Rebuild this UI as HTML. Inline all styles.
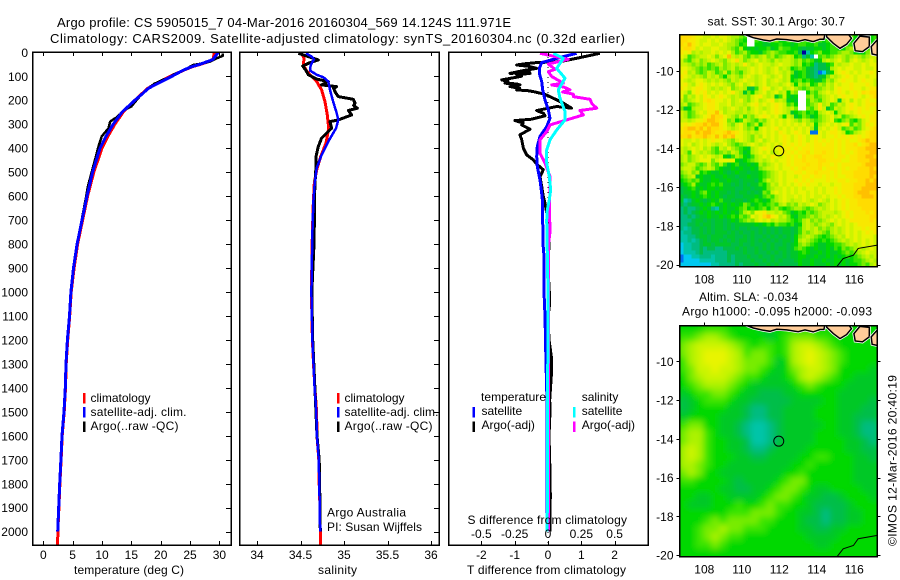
<!DOCTYPE html>
<html>
<head>
<meta charset="utf-8">
<title>Argo profile 5905015</title>
<style>
html,body{margin:0;padding:0;background:#fff;}
svg{display:block;}
text{font-family:"Liberation Sans",sans-serif;font-size:12px;fill:#000;}
.frame{fill:none;stroke:#000;stroke-width:1.5;shape-rendering:crispEdges;}
.tick{stroke:#000;stroke-width:1;shape-rendering:crispEdges;}
.line{fill:none;stroke-linejoin:round;shape-rendering:crispEdges;}
</style>
</head>
<body>
<svg id="chart" xmlns="http://www.w3.org/2000/svg" width="900" height="580" viewBox="0 0 900 580">
<defs>
<clipPath id="clip-t"><rect x="32" y="52" width="199" height="493"/></clipPath>
<clipPath id="clip-s"><rect x="239" y="52" width="200" height="493"/></clipPath>
<clipPath id="clip-d"><rect x="448" y="52" width="200" height="493"/></clipPath>
<clipPath id="clip-m1"><rect x="679.5" y="34.5" width="197.8" height="232"/></clipPath>
<clipPath id="clip-m2"><rect x="679.5" y="325.5" width="197.8" height="231"/></clipPath>
<filter id="smooth" x="-10%" y="-10%" width="120%" height="120%"><feGaussianBlur stdDeviation="3.2"/></filter>
</defs>

<text x="57" y="27" style="font-size:13px" textLength="454">Argo profile: CS 5905015_7 04-Mar-2016 20160304_569 14.124S 111.971E</text>
<text x="50" y="43" style="font-size:13px" textLength="575">Climatology: CARS2009. Satellite-adjusted climatology: synTS_20160304.nc (0.32d earlier)</text>

<g id="map1"></g>
<g id="map2"></g>
<g id="panelT"></g>
<g id="panelS"></g>
<g id="panelD"></g>

<rect class="frame" x="32.5" y="52" width="198.5" height="493"/>
<rect class="frame" x="239.5" y="52" width="199.5" height="493"/>
<rect class="frame" x="448.5" y="52" width="199.5" height="493"/>
<rect class="frame" x="679.5" y="34.5" width="197.8" height="232"/>
<rect class="frame" x="679.5" y="325.5" width="197.8" height="231"/>

<text x="74" y="574" textLength="110">temperature (deg C)</text>
<text x="318" y="574" textLength="39">salinity</text>
<text x="467" y="574" textLength="159">T difference from climatology</text>
<text x="467.5" y="524" textLength="159.5">S difference from climatology</text>

<g>
<rect x="83" y="393" width="2.5" height="10.5" fill="#f00"/>
<text x="90.5" y="402">climatology</text>
<rect x="83" y="407" width="2.5" height="10.5" fill="#00f"/>
<text x="90.5" y="416" textLength="96">satellite-adj. clim.</text>
<rect x="83" y="421.5" width="2.5" height="10.5" fill="#000"/>
<text x="90.5" y="430" textLength="88">Argo(..raw -QC)</text>
</g>
<g>
<rect x="337" y="393" width="2.5" height="10.5" fill="#f00"/>
<text x="344.5" y="402">climatology</text>
<rect x="337" y="407" width="2.5" height="10.5" fill="#00f"/>
<text x="344.5" y="416" textLength="94">satellite-adj. clim.</text>
<rect x="337" y="421.5" width="2.5" height="10.5" fill="#000"/>
<text x="344.5" y="430" textLength="88">Argo(..raw -QC)</text>
<text x="327" y="516.5" textLength="79">Argo Australia</text>
<text x="327" y="531" textLength="95">PI: Susan Wijffels</text>
</g>

<text x="707.5" y="25.5" textLength="137.5">sat. SST: 30.1  Argo: 30.7</text>
<text x="699" y="301" textLength="99">Altim. SLA: -0.034</text>
<text x="682" y="315.5" textLength="190">Argo h1000: -0.095 h2000: -0.093</text>
<text transform="translate(896.5,546) rotate(-90)" textLength="171">©IMOS 12-Mar-2016 20:40:19</text>
</svg>

<script>
// ---- chart data ----
const depthTicks = [0,100,200,300,400,500,600,700,800,900,1000,1100,1200,1300,1400,1500,1600,1700,1800,1900,2000];
const tempTicks = [0,5,10,15,20,25,30];
const salTicks = [34,34.5,35,35.5,36];
const salTickLabels = ['34','34.5','35','35.5','36'];
const tDiffTicks = [-2,-1,0,1,2];
const tDiffLabels = ['-2','-1','0','1','2'];
const sDiffTicks = [-0.5,-0.25,0,0.25,0.5];
const sDiffLabels = ['-0.5','-0.25','0','0.25','0.5'];
const lonTicks = [108,110,112,114,116];
const latTicks = [-10,-12,-14,-16,-18,-20];

const tempClimDepth = [0,25,35,50,60,75,100,125,150,175,200,250,300,350,400,500,600,700,800,900,1000,1100,1200,1300,1400,1500,1600,1700,1800,1900,2000,2055];
const tempClim = [29.1,29.0,28.6,26.8,25.4,23.9,21.6,19.6,17.8,16.7,15.6,13.6,12.2,11.0,10.0,8.6,7.55,6.7,5.85,5.25,4.75,4.5,4.15,3.9,3.78,3.56,3.22,3.03,2.83,2.65,2.47,2.45];
const tempSatDepth = [0,30,50,60,75,100,125,150,175,200,250,300,350,400,500,600,700,800,900,1000,1100,1200,1300,1400,1500,1600,1700,1800,1900,2000];
const tempSat = [29.8,28.9,26.7,25.3,23.8,21.9,19.9,17.9,16.8,15.6,13.4,11.9,10.7,9.66,8.4,7.44,6.6,5.75,5.15,4.7,4.46,4.1,3.87,3.75,3.53,3.19,3.0,2.8,2.62,2.45];
const tempArgoDepth = [4,15,25,39,46,53,60,76,90,108,115,132,154,171,199,226,240,271,289,317,351,393,449,490,560,601,700,800,900,1000,1100,1200,1300,1400,1500,1600,1700,1800,1900,2000];
const tempArgo = [30.56,30.56,29.5,28.4,27.26,25.55,25.0,23.85,22.4,21.3,20.3,18.9,17.7,16.9,15.9,15.0,13.9,12.5,11.4,11.1,9.95,9.4,8.8,8.35,7.6,7.3,6.55,5.72,5.12,4.68,4.45,4.08,3.88,3.75,3.55,3.2,3.02,2.82,2.65,2.45];

const salClimDepth = [4,25,53,74,94,122,157,206,261,317,379,435,490,546,629,768,1000,1200,1300,1400,1500,1600,1700,1800,1900,2000,2055];
const salClim = [34.513,34.54,34.533,34.563,34.609,34.686,34.743,34.782,34.808,34.824,34.793,34.732,34.686,34.659,34.647,34.636,34.625,34.637,34.65,34.665,34.685,34.69,34.71,34.715,34.724,34.728,34.728];
const salSatDepth = [4,18,29,53,76,94,104,122,157,199,254,282,317,372,428,483,546,629,768,1000,1200,1300,1400,1500,1600,1700,1800,1900,2000];
const salSat = [34.563,34.628,34.655,34.617,34.609,34.686,34.762,34.82,34.839,34.87,34.916,34.935,34.908,34.82,34.743,34.686,34.663,34.647,34.636,34.625,34.637,34.65,34.662,34.682,34.688,34.71,34.715,34.722,34.725];
const salArgoDepth = [4,11,32,43,57,76,94,112,122,136,143,150,164,175,185,196,212,222,233,243,261,282,289,317,358,393,435,476,546,629,719,800,1000,1200,1400,1600,1700,1800,1900,2000];
const salArgo = [34.475,34.533,34.705,34.609,34.525,34.563,34.59,34.686,34.82,34.743,34.916,34.88,34.897,34.915,34.935,35.107,35.126,35.11,35.153,35.05,35.088,34.935,34.839,34.858,34.743,34.705,34.678,34.678,34.667,34.659,34.659,34.655,34.63,34.64,34.665,34.69,34.715,34.72,34.724,34.728];

const diffTArgoDepth = [4,25,39,43,48,53,58,67,75,88,84,88,94,100,115,122,129,132,136,143,150,157,160,164,175,185,212,233,226,243,254,265,279,285,295,303,321,344,365,400,428,449,469,490,518,560,601,629,700,800,900,1000,1050,1100,1200,1280,1350,1450,1500,1600,1750,1850,1950,2000];
const diffTArgo = [1.56,0.86,0.36,-0.34,-0.7,-0.94,-0.6,-0.34,-0.7,-1.14,-0.55,-0.54,-0.94,-0.8,-1.39,-1.2,-1.29,-0.95,-0.84,-1.14,-0.85,-0.94,-0.6,-0.44,-0.1,0.06,0.46,0.71,0.26,-0.34,-0.14,-0.09,-0.49,-0.99,-0.75,-0.79,-0.54,-0.84,-0.79,-0.74,-0.64,-0.44,-0.32,-0.14,-0.24,-0.19,-0.14,-0.09,0.0,0.03,0.0,0.04,0.05,0.0,0.03,0.11,0.1,0.05,0.06,0.03,0.06,0.07,0.06,0.06];
const diffTSatDepth = [4,18,43,67,88,122,157,199,240,275,310,351,393,435,476,532,588,629,699,800,850,1000,1100,1300,1450,2000];
const diffTSat = [0.86,0.46,-0.19,-0.26,-0.26,-0.19,-0.16,-0.09,0.01,0.06,-0.04,-0.24,-0.32,-0.34,-0.32,-0.24,-0.19,-0.16,-0.16,-0.15,-0.12,-0.12,-0.09,-0.06,-0.03,-0.03];
const diffSArgoDepth = [4,29,49,71,81,101,129,136,145,157,165,175,185,196,215,233,243,261,282,303,331,365,421,462,518,560,629,699,750,800,2000];
const diffSArgo = [-0.06,0.1525,0.0025,0.0525,0.0025,0.0275,0.115,0.0275,0.12,0.165,0.11,0.19,0.19,0.315,0.33,0.365,0.24,0.265,0.14,0.015,-0.01,-0.06,-0.06,-0.0225,0.015,0.015,0.012,0.0125,0.015,0.004,0.004];
const diffSSatDepth = [4,25,67,108,157,192,247,282,324,365,407,462,518,574,615,657,699,1000,2000];
const diffSSat = [0.04,0.115,0.065,0.1275,0.0775,0.09,0.1275,0.1275,0.065,0.015,-0.01,-0.01,0.01,0.02,0.01,-0.005,-0.01,0,-0.006];

const colorScale = {A:'#0000a0',B:'#0070f0',C:'#00c8f0',D:'#00c4a8',E:'#00bc80',F:'#00be48',G:'#00c828',H:'#00d800',I:'#38e400',J:'#78ec00',K:'#acf200',L:'#ccf400',M:'#e8f400',N:'#f8e800',O:'#ffdc00',P:'#ffc000',W:'#ffffff'};

const sstGrid = [
"OOONMMLLMLMMLKKJIWWHHIIJHIHHHHIIIIHIIIJIHHIJHIIHHI",
"OONNMLLMLMLMLKJIHWWIHGHIJHHIIHHIIHIIHIHHIJIHHIIHHI",
"ONPNMLMMLLMLKKJHIWWHHGGHHIHHGHIIHHIGGHIHHJIIHIHHIJ",
"NOONLMLLMMLLKJIKHGHGHHIGHJIIHHGFGGHHGHIIHHJKIHHIJK",
"NMNKLKLLMLMLMKIJKIHHGIJKJIIHHIFADHIJHHIIJKKJHGHJKL",
"MLIJKLLMLJLMPLKLJIKJKLJKIJKLKHIEGDWIJIJKLKJKLKJKLL",
"LJIKLJKLMLKJLMOLJKLMKLKJLKLLKJKIJIGHKLKLMKJLMLKLML",
"LLKJKJKIJKLJKLKLNLKLMLLKLMLLKJKHIHEFFHILKLLMLLMLMM",
"MMLKJIJIJIKJKLJKKLMLMLKLMKLKHIJIGFEFFGKLMLMMLLMLLM",
"MNKLJIJLKIJLIKJIKLMLMLKLMLKLJGHIGFEBCFHLMNMLMLMMNM",
"NMLKLKJLKLJHKLKJLMLKLMLKLMKLHGHIGFEFGJLKLMNMLMMLMM",
"MLKLMMLKLKLKJLKLMLLKLMKLMLKLHIJHIHGGIKJLMNMMLMNMML",
"MNLKMNMLMLMLKJLMKLMKLMKLLKLMKHKJKHIKJLKMLMMNMMMNML",
"NMLMNNMLKLKLMJKLKGFILNMKLMKLMKJIJKJJKLKMNMMNMMLMNN",
"MLJMNMNLMLMLMNLKGJHKLMKLMKLHKJWWHJIKLMLMNMLMNMONOO",
"MJLKMLNMLMNMLKLKKJLMNLKLGILHGHWWJKIJKLMLMNMMNMLMNO",
"LJKLMLNONMMLMKLMKJLMKLMNKLKGHGWWIKJIKLMLGLMKMLMNMM",
"KLIJKLMNNMLLMKLLKLMNLMLMNMLIJHWWIJKNKLIJLKMNMLMNNN",
"JGHKLLMNNMLKLMLKLJLMLKLMNMLKLJWWJIKNLGILKLMNMNMNMM",
"LKIJLMLNNPMKLLKKLKLMLMLMNMLKGHIJHIHKLMLHKLMLMNMMMN",
"LKIJKLMNPOOMLKJLIKJLMNMLMKHLKGHJIGHJKLMKLIJKLMNMNN",
"LLKLMMNPPONMJKHILKJIKJLMLMLMLKJLKJIJKLMIHJKIHJLMNN",
"MNMNOOPOPPNMKJLMKIJLHKLMLMLMLMLMKLHKLMLMLMNIKJLNMN",
"NOPPOPNPOONMLKLMKJKHLMLMNLMLMLMLMKGLMLMNLIJKIJLMNO",
"NOONPOPPONNOPONMLKLKLMLMLNMLMNMLMBBMLMNNMLHIKLMNOO",
"OOPNOOPONPNPOPMMLKJLKMLMLMNMLMNMLMNMLMMNMNMNMNMNOO",
"MLLMLMLMNMMLKJLMLKJLMKLMLMNMLMNMLMNMNMNMNMNMMNOPOO",
"MLMKLMLMLKLMKJIJKLMLKLMLMLNMNMNMNMNNMNNMNMNNOMNOPP",
"LKLMLMKLJILKMKJIHGKLMNMLMNMNMNMNNMNNNNNMNMNNNOOPPP",
"LKIMLKLKJIJKJLKIGHKLMLMKLMNMNMNNOMNNONNMNMNMNOOOPP",
"KLJKLMLMLKLHGIKJHGIKLMLNMLMNMNMONNOONNNMNNMNNOOPPO",
"KLJKLMMMJLMMMMHGHIJKLKLMLMMNMNNONNNOONNNNMMNNOOOPP",
"JKLLJIJLJIKIGHIGGHGHKJKLMLMNMNNNONNONNMNMNNNNNOPPP",
"KLLKIJKLKIHGGHGHGGHGJKLLMLMMNMNONNNOMNNNMNMNNOOOPO",
"JKLJKHIHGGHGFGHGGFGGHIJKLMLMMNNMNNONNNMNMNNNOOOOPP",
"IJKLGHGGHGGHGGFGGHGGHIJKLMLMMLMNNMNNMNMNMMNNOOOOPO",
"HIJIJHGGHHGGHGGFGGGFHJLKLMLMMNMNMNMMMNMMNNMNNOOPOP",
"GHIKHGGHIHIGGFGFGFGGIHJLKMLMLMNMNMMLMMLMMNNNOOOPPP",
"FGHIGHGHHGHGGGFFGGFGGHJKLLMLMLMLMMLMLMMNMNNNOOPPPP",
"FGGHGIJHGHGGFGFGGFGFGJILMLMLMLMMLMLMLMMNMNNNOPPPOO",
"GFGHGHIHGHGFGGFFGGGHGIJIKLMLLMLMLMLLMLMMNMNNOOPPPO",
"GDEGHGFGHGIGGFGGFGHIHGHJKLMLKLLMLKLMLKMLMNMNNOOOOO",
"FEFGGHGHIHGHGHGHJIGHIHIJIKLJKJLKLMLJKLMLMNMNNOOOOO",
"EFEEFGHGEDGHGGHIJHIHIJHJKIHIJKKJIJKLKLMLMNMNNNOOOO",
"EFEFGHGHGHGHGHGIKLJMMNLLKLJIGHIHJIJKLLLKLMNMNNNONO",
"EEFEFGGHGGHGHIHJIJMLMOPNMKLJHGIIJKJKLKLMLMNMNNNNOO",
"EEEFGGFGFGGFGHGIJKJLMLMKLKKJIHIKLJKJKLMLMLMNNNNNON",
"EEFFGFGGFGGFGFGGGGGHGHIHJIIHIGHKLKJKLKJLMLMLMNNNNN",
"EDEFFGFGFGGFGFGFFGFFGFGFGFGGFGIKLKLJKJKLKLMLMMNMNN",
"DEEFFGFGFGGGFGFGFFGFGFGFGFGGFGIKJKLKJIKLKLMLMLMNMN",
"DDEEFGGFGGGFGGFFGFGFFGFGFGFGFHJKLKJIHIJKLKMLMLMMML",
"DDEDEFGFGGFGFGFGGFGFGFGFGFGGFHKLKJIHIHIJKLKLMLMLML",
"CDDEEFGGFGGGGFFGFFGFFGFGFFGFGHJKJIHGGHHIIJKLKLMLML",
"CDDEEFEFFEEFFFGFGFFGFGFGFGGFGIJIHGHGGHGIHJIJKLKLML",
"CDDDEFEEEEEEFFFFGFFGFFGFGFGFGGHIHGGHGHGGHIJIJKLMLL",
"BCCDDEEEDEEEFEFFFGFFGFFGFFGFGGHHGGHGGHGHGHIHIJKLKL",
"BCCCCDDDDEEEFEFFFFGFFGFGFGFFFGHGGHGGHGGHHHGHIIJKLK",
"CCCCCCCCDDEEEEFEFFFGFFGFGFFFFFHGGHGGGHGHGHGHHIJIKL"
];

const slaGrid = [
"HHHIIIHHHHGGHHHHHHHHHHHHH",
"IIJKKJIHHHHGHIJJJIIHHHHHH",
"JKLLLLKJIHIIHIKLLKJIHHHHH",
"JKLMMMLKIJJIHIKLMLKJIHHHH",
"IKLMMMLKJJJIGHKLMLKJIHHHH",
"IJLLMLLKJJIHGHJKLLKJHHHHG",
"HJKLLLKJIIHGGHIKLKJIHHGGG",
"HIJKKKJIHGGGGGHIJIHHHGGGG",
"GHIIJJIHGGFFFGGHHHHHGGGGG",
"FGHIIIHGGFFFFFGGGGHHGGGGF",
"FGHHHHGGFEEFFGGGGHHHGGGFF",
"GHHHHGGGFEEFFGGGGHHHGGFFF",
"IJJHHGGFEDDEFGGGGGHHGGFEE",
"JKKIHGGFEDDEFGGGGHHHGGFEE",
"JKKIHHGGFDDEFGGGGHHHHGGFE",
"KLKIHHGGFEEFGGGGHHHHHGGFF",
"KLKIHHHGGFFGGGGHHIIHHHGGF",
"KKJIHHGGGGGGGGHHIHHHHHGGG",
"JKJHHGGGGGGGGHHIHHHHHHGGG",
"IIHHHHGFGGGGHIJJHHHHHHGGG",
"HHHHHGGFFGGHIJJIHGGHHHHGG",
"HHGGHHGGGGHIJJIHGGFFGHHHG",
"HGGGHHHIHHIJIIHHGFFFFGHHH",
"HHHHHHIIIJJJIHHGGFEFFGGHH",
"HHHIJIJJJJIIHHHGFFEFFGGHH",
"HHIJJKJJIIIHHHHGGFFGGHHHH",
"HHIJKJIIHHHHHHHHGGGGHHHHH",
"HHIIJIHHHHHHHHHHHGGHHHHHH",
"HHHHHHHHHHHHHHHHHHHHHHHHH"
];

const landJavaLon = [110.12,110.61,111.15,111.5,111.86,112.39,113.01,113.37,113.81,114.17,114.38,114.44];
const landJavaLat = [-8.1,-8.28,-8.4,-8.45,-8.35,-8.38,-8.47,-8.38,-8.48,-8.36,-8.36,-8.1];
const landBaliLon = [114.52,114.52,114.88,115.24,115.59,115.85,115.68];
const landBaliLat = [-8.1,-8.23,-8.57,-8.83,-8.62,-8.31,-8.1];
const landLombokLon = [115.98,116.3,116.8,116.8,116.44,116.05];
const landLombokLat = [-8.57,-8.2,-8.25,-8.74,-9.0,-8.95];
const landSumbawaLon = [116.9,117.3,117.3,116.95];
const landSumbawaLat = [-8.74,-8.3,-9.2,-9.12];
const coastAusLon = [115.06,115.41,115.95,116.21,117.23];
const coastAusLat = [-20.11,-19.68,-19.51,-19.16,-18.99];

const floatLon = 111.971;
const floatLat = -14.124;

// ---- axis functions ----
const NS = 'http://www.w3.org/2000/svg';
const depthY = d => 52.3 + d * 0.2397;
const tempX = v => 43.3 + v * 5.87;
const salX = v => 257 + (v - 34) * 87;
const diffTX = v => 548 + v * 33.3;
const diffSX = v => 548 + v * 133.3;
const lonX = v => 704.3 + (v - 108) * 18.75;
const lat1Y = v => 71 + (-10 - v) * 19.37;
const lat2Y = v => 361.3 + (-10 - v) * 19.37;

function mk(tag, parent, attrs){
  const el = document.createElementNS(NS, tag);
  for (const k in attrs) el.setAttribute(k, attrs[k]);
  parent.appendChild(el);
  return el;
}

function drawSeries(parent, depths, values, xFn, color, width, clip, name){
  const pts = values.map((v, i) => xFn(v).toFixed(1) + ',' + depthY(depths[i]).toFixed(1)).join(' ');
  const el = mk('polyline', parent, {points: pts, stroke: color, 'stroke-width': width, 'clip-path': 'url(#' + clip + ')'});
  el.setAttribute('class', 'line');
  
  
}

function drawTick(parent, x1, y1, x2, y2){
  const el = mk('line', parent, {x1: x1, y1: y1, x2: x2, y2: y2});
  el.setAttribute('class', 'tick');
  
  
}

function drawLabel(parent, x, y, str, anchor){
  const el = mk('text', parent, {x: x, y: y, 'text-anchor': anchor});
  el.textContent = str;
  
  
}

// ---- profile panels ----
const panelT = document.getElementById('panelT');
const panelS = document.getElementById('panelS');
const panelD = document.getElementById('panelD');

const zeroLine = mk('line', panelD, {x1: diffTX(0), x2: diffTX(0), y1: 52, y2: 545, stroke: '#000', 'stroke-width': 1, 'stroke-dasharray': '1 4'});



drawSeries(panelT, tempClimDepth, tempClim, tempX, '#f00', 3, 'clip-t', 'temperature-climatology-line');
drawSeries(panelT, tempArgoDepth, tempArgo, tempX, '#000', 2.5, 'clip-t', 'temperature-argo-line');
drawSeries(panelT, tempSatDepth, tempSat, tempX, '#00f', 3, 'clip-t', 'temperature-satellite-line');

drawSeries(panelS, salClimDepth, salClim, salX, '#f00', 3, 'clip-s', 'salinity-climatology-line');
drawSeries(panelS, salArgoDepth, salArgo, salX, '#000', 3, 'clip-s', 'salinity-argo-line');
drawSeries(panelS, salSatDepth, salSat, salX, '#00f', 2.5, 'clip-s', 'salinity-satellite-line');

drawSeries(panelD, diffTArgoDepth, diffTArgo, diffTX, '#000', 3, 'clip-d', 'difference-t-argo-line');
drawSeries(panelD, diffTSatDepth, diffTSat, diffTX, '#00f', 3, 'clip-d', 'difference-t-satellite-line');
drawSeries(panelD, diffSArgoDepth, diffSArgo, diffSX, '#f0f', 3, 'clip-d', 'difference-s-argo-line');
drawSeries(panelD, diffSSatDepth, diffSSat, diffSX, '#0ff', 3, 'clip-d', 'difference-s-satellite-line');

// depth ticks and labels
depthTicks.forEach(d => {
  const y = Math.round(depthY(d)) + 0.5;
  drawLabel(panelT, 28, depthY(d) + 4.5, String(d), 'end');
  drawTick(panelT, 226, y, 231, y);
  drawTick(panelS, 434, y, 439, y);
});

// x ticks
tempTicks.forEach(v => {
  const x = Math.round(tempX(v)) + 0.5;
  drawTick(panelT, x, 52, x, 56);
  drawTick(panelT, x, 541, x, 545);
  drawLabel(panelT, tempX(v), 559, String(v), 'middle');
});
salTicks.forEach((v, i) => {
  const x = Math.round(salX(v)) + 0.5;
  drawTick(panelS, x, 52, x, 56);
  drawTick(panelS, x, 541, x, 545);
  drawLabel(panelS, salX(v), 559, salTickLabels[i], 'middle');
});
tDiffTicks.forEach((v, i) => {
  const x = Math.round(diffTX(v)) + 0.5;
  drawTick(panelD, x, 52, x, 56);
  drawTick(panelD, x, 541, x, 545);
  drawLabel(panelD, diffTX(v), 559, tDiffLabels[i], 'middle');
});
sDiffTicks.forEach((v, i) => {
  drawLabel(panelD, diffSX(v), 538, sDiffLabels[i], 'middle');
});

// ---- maps ----
function drawLand(parent, lons, lats, latFn, name){
  const pts = lons.map((v, i) => lonX(v).toFixed(1) + ',' + latFn(lats[i]).toFixed(1)).join(' ');
  const halo = mk('polygon', parent, {points: pts, fill: 'none', stroke: '#fff', 'stroke-width': 3});
  
  
  const el = mk('polygon', parent, {points: pts, fill: '#ffcc99', stroke: '#000', 'stroke-width': 1.5});
  
  
}

function drawMapDecor(root, clipId, latFn, top, bottom){
  const g = mk('g', root, {'clip-path': 'url(#' + clipId + ')'});
  
  
  drawLand(g, landJavaLon, landJavaLat, latFn, 'land-java');
  drawLand(g, landBaliLon, landBaliLat, latFn, 'land-bali');
  drawLand(g, landLombokLon, landLombokLat, latFn, 'land-lombok');
  drawLand(g, landSumbawaLon, landSumbawaLat, latFn, 'land-sumbawa');
  const aus = mk('polyline', g, {
    points: coastAusLon.map((v, i) => lonX(v).toFixed(1) + ',' + latFn(coastAusLat[i]).toFixed(1)).join(' '),
    fill: 'none', stroke: '#000', 'stroke-width': 1
  });
  
  
  const marker = mk('circle', g, {cx: lonX(floatLon), cy: latFn(floatLat), r: 5, fill: 'none', stroke: '#000', 'stroke-width': 1});
  
  
  lonTicks.forEach(v => {
    const x = Math.round(lonX(v)) + 0.5;
    drawTick(root, x, top - 3, x, top);
    drawLabel(root, lonX(v), bottom + 17, String(v), 'middle');
  });
  latTicks.forEach(v => {
    const y = Math.round(latFn(v)) + 0.5;
    drawTick(root, 676.5, y, 679.5, y);
    drawTick(root, 877.3, y, 880.3, y);
    drawLabel(root, 673.5, latFn(v) + 4.5, String(v), 'end');
  });
}

// SST heat cells
const map1 = document.getElementById('map1');
const sstClip = mk('g', map1, {'clip-path': 'url(#clip-m1)'});


const sstCellW = 197.8 / 50, sstCellH = 232 / 58;
sstGrid.forEach((row, r) => {
  row.split('').forEach((ch, c) => {
    const cell = mk('rect', sstClip, {
      x: (679.5 + c * sstCellW).toFixed(2),
      y: (34.5 + r * sstCellH).toFixed(2),
      width: (sstCellW + 0.4).toFixed(2),
      height: (sstCellH + 0.4).toFixed(2),
      fill: colorScale[ch],
      'shape-rendering': 'crispEdges'
    });
    
    
  });
});
drawMapDecor(map1, 'clip-m1', lat1Y, 34.5, 266.5);

// SLA heat cells
const map2 = document.getElementById('map2');
const slaClip = mk('g', map2, {'clip-path': 'url(#clip-m2)'});


const slaBlur = mk('g', slaClip, {filter: 'url(#smooth)'});


const slaBack = mk('rect', slaBlur, {x: 660, y: 305, width: 240, height: 270, fill: colorScale.H});


const slaCellW = 197.8 / 25, slaCellH = 231 / 29;
slaGrid.forEach((row, r) => {
  row.split('').forEach((ch, c) => {
    const cell = mk('rect', slaBlur, {
      x: (679.5 + c * slaCellW).toFixed(2),
      y: (325.5 + r * slaCellH).toFixed(2),
      width: (slaCellW + 0.4).toFixed(2),
      height: (slaCellH + 0.4).toFixed(2),
      fill: colorScale[ch]
    });
    
    
  });
});
drawMapDecor(map2, 'clip-m2', lat2Y, 325.5, 556.5);

// ---- difference-panel legend (drawn last so it sits over the lines) ----
const diffLegend = mk('g', panelD, {});


const legendTemp = mk('text', diffLegend, {x: 481, y: 401, textLength: 65});
legendTemp.textContent = 'temperature';


const legendSal = mk('text', diffLegend, {x: 581.7, y: 401});
legendSal.textContent = 'salinity';


const legendTSat = mk('text', diffLegend, {x: 481.5, y: 415});
legendTSat.textContent = 'satellite';


const legendSSat = mk('text', diffLegend, {x: 581.7, y: 415});
legendSSat.textContent = 'satellite';


const legendTArgo = mk('text', diffLegend, {x: 481.5, y: 429});
legendTArgo.textContent = 'Argo(-adj)';


const legendSArgo = mk('text', diffLegend, {x: 581.7, y: 429});
legendSArgo.textContent = 'Argo(-adj)';


const swatchTSat = mk('rect', diffLegend, {x: 472.5, y: 407, width: 2.5, height: 10.5, fill: '#00f'});


const swatchTArgo = mk('rect', diffLegend, {x: 472.5, y: 421.5, width: 2.5, height: 10.5, fill: '#000'});


const swatchSSat = mk('rect', diffLegend, {x: 573, y: 407, width: 2.5, height: 10.5, fill: '#0ff'});


const swatchSArgo = mk('rect', diffLegend, {x: 573, y: 421.5, width: 2.5, height: 10.5, fill: '#f0f'});


</script>
</body>
</html>
